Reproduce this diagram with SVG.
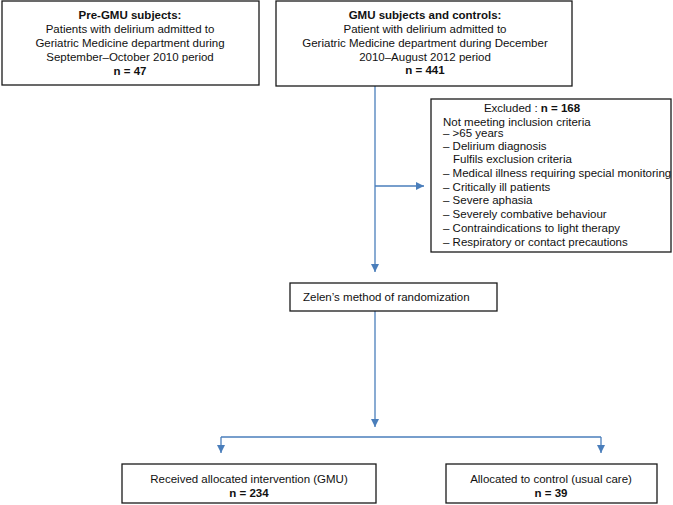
<svg xmlns="http://www.w3.org/2000/svg" width="673" height="505" viewBox="0 0 673 505">
<style>
.box{fill:#fff;stroke:#1a1a1a;stroke-width:1.3}
text{font-family:"Liberation Sans",Arial,sans-serif;font-size:11.5px;fill:#111}
.c{text-anchor:middle}
.b{font-weight:bold}
.ln{fill:none;stroke:#4a7ebb;stroke-width:1.3}
</style>
<defs>
<marker id="ah" viewBox="0 0 10 10" refX="10" refY="5" markerWidth="8" markerHeight="8" markerUnits="userSpaceOnUse" orient="auto">
<path d="M0,0 L10,5 L0,10 z" fill="#4a7ebb"/>
</marker>
</defs>
<rect width="673" height="505" fill="#fff"/>
<g id="connectors">
<line class="ln" x1="375" y1="86" x2="375" y2="272" marker-end="url(#ah)"/>
<line class="ln" x1="375" y1="186" x2="424" y2="186" marker-end="url(#ah)"/>
<line class="ln" x1="375" y1="311" x2="375" y2="427" marker-end="url(#ah)"/>
<polyline class="ln" points="221,437 601,437"/>
<line class="ln" x1="221" y1="437" x2="221" y2="453" marker-end="url(#ah)"/>
<line class="ln" x1="601" y1="437" x2="601" y2="453" marker-end="url(#ah)"/>
</g>
<g id="pre-gmu">
<rect class="box" x="2" y="1" width="257" height="84"/>
<text class="c b" x="130" y="19">Pre-GMU subjects:</text>
<text class="c" x="130" y="33">Patients with delirium admitted to</text>
<text class="c" x="130" y="47">Geriatric Medicine department during</text>
<text class="c" x="130" y="61">September–October 2010 period</text>
<text class="c b" x="130" y="75">n = 47</text>
</g>
<g id="gmu">
<rect class="box" x="276" y="1" width="296" height="85"/>
<text class="c b" x="425" y="19">GMU subjects and controls:</text>
<text class="c" x="425" y="33">Patient with delirium admitted to</text>
<text class="c" x="425" y="47">Geriatric Medicine department during December</text>
<text class="c" x="425" y="61">2010–August 2012 period</text>
<text class="c b" x="425" y="74">n = 441</text>
</g>
<g id="excluded">
<rect class="box" x="431" y="99" width="240" height="153"/>
<text class="c" x="532" y="112">Excluded : <tspan class="b">n = 168</tspan></text>
<text x="443" y="125.5">Not meeting inclusion criteria</text>
<text x="443" y="136.5">– &gt;65 years</text>
<text x="443" y="149.5">– Delirium diagnosis</text>
<text x="453" y="163">Fulfils exclusion criteria</text>
<text x="443" y="177">– Medical illness requiring special monitoring</text>
<text x="443" y="191">– Critically ill patients</text>
<text x="443" y="204">– Severe aphasia</text>
<text x="443" y="218">– Severely combative behaviour</text>
<text x="443" y="231.5">– Contraindications to light therapy</text>
<text x="443" y="245.5">– Respiratory or contact precautions</text>
</g>
<g id="zelen">
<rect class="box" x="290" y="283" width="207" height="28"/>
<text x="303" y="301">Zelen’s method of randomization</text>
</g>
<g id="intervention">
<rect class="box" x="122" y="464" width="254" height="39"/>
<text class="c" x="249" y="483">Received allocated intervention (GMU)</text>
<text class="c b" x="249" y="497">n = 234</text>
</g>
<g id="control">
<rect class="box" x="446" y="464" width="211" height="39"/>
<text class="c" x="551" y="483">Allocated to control (usual care)</text>
<text class="c b" x="551" y="497">n = 39</text>
</g>
</svg>
